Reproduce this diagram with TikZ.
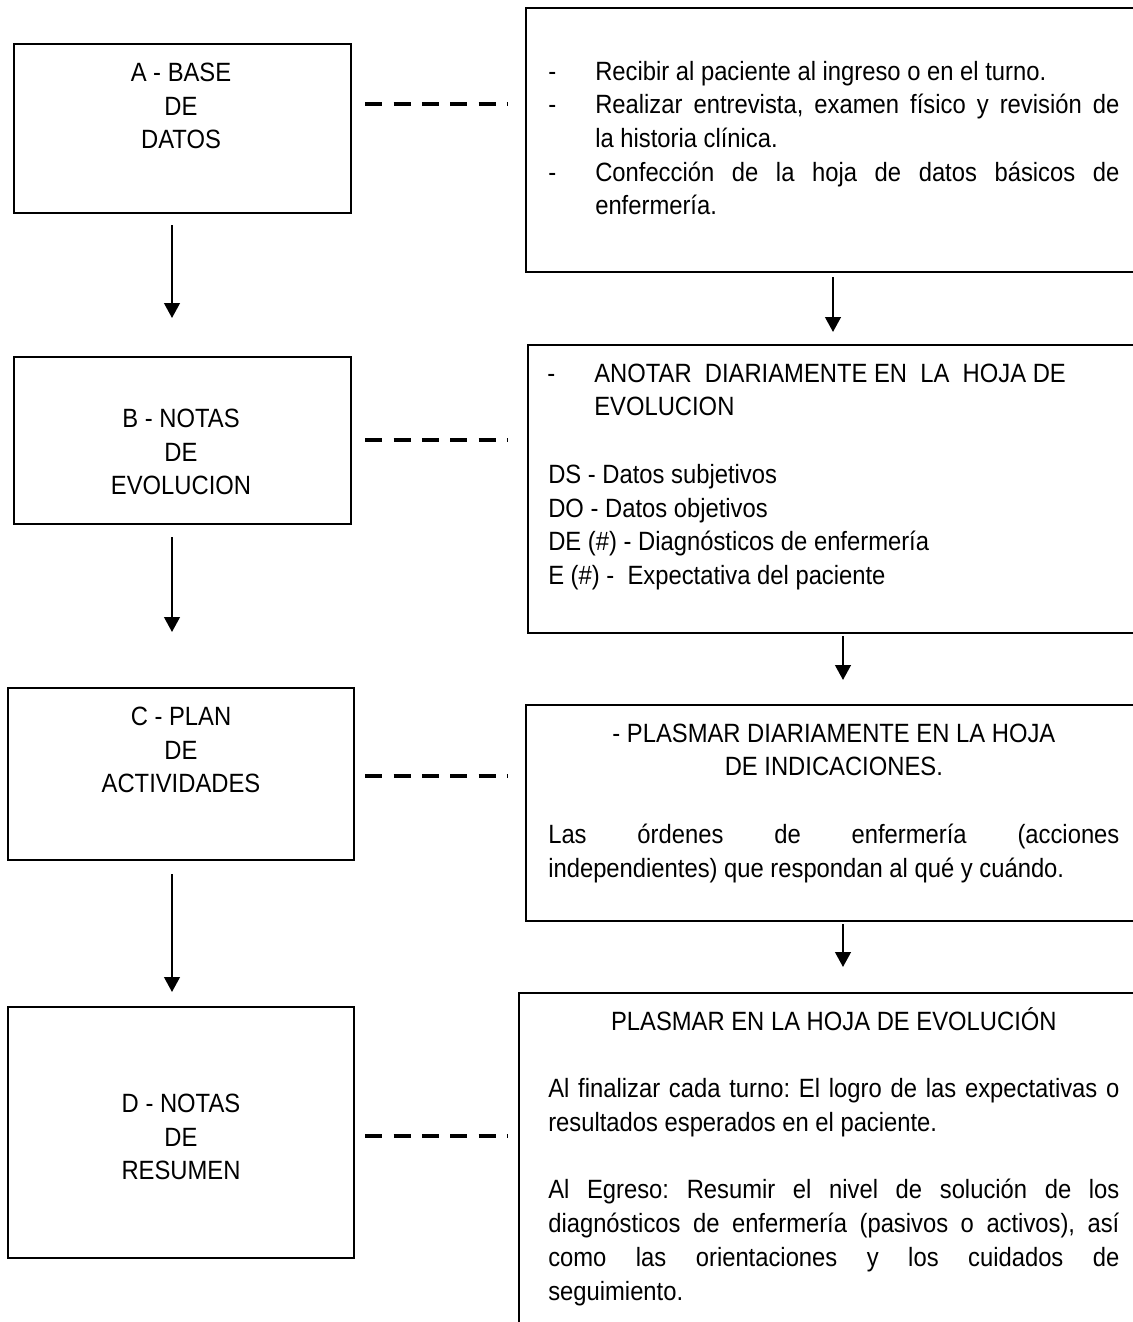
\documentclass[tikz,border=0pt]{standalone}
\usepackage{fontspec}
\setmainfont{Liberation Sans}[FakeStretch=0.9]
\usetikzlibrary{arrows.meta}

\newcommand{\guion}{\leavevmode\llap{\makebox[1.175cm][l]{-}}}
\newcommand{\sincorte}{\frenchspacing\hyphenpenalty=10000 \tolerance=10000 }

\begin{document}
\begin{tikzpicture}[
    x=0.025cm, y=-0.025cm,
    fase/.style={rectangle, draw=black, line width=1.5pt, inner sep=0pt, anchor=north west},
    hoja/.style={rectangle, draw=black, line width=1.5pt, inner sep=0pt, anchor=north west, minimum width=15.75cm},
    rotulo/.style={align=center, inner sep=0pt, font=\fontsize{18.8}{24}\selectfont},
    texto/.style={anchor=base west, inner sep=0pt, align=justify, font={\fontsize{18.8}{24}\selectfont\sincorte}},
    arrow/.style={-{Triangle[width=11pt, length=10.5pt]}, line width=1.5pt},
    link/.style={line width=3.2pt, dash pattern=on 0.425cm off 0.283cm}
]
\useasboundingbox (0,0) rectangle (1132,1322);

% Left column: stages
\node[fase, minimum width=8.425cm, minimum height=4.225cm] (base) at (13,43) {};
\node[fase, minimum width=8.425cm, minimum height=4.175cm] (notas) at (13,356) {};
\node[fase, minimum width=8.65cm, minimum height=4.3cm] (plan) at (7,687) {};
\node[fase, minimum width=8.65cm, minimum height=6.275cm] (resumen) at (7,1006) {};

\node[rotulo] (baseTxt) at (181,106) {A - BASE\\DE\\DATOS};
\node[rotulo] (notasTxt) at (181,452) {B - NOTAS\\DE\\EVOLUCION};
\node[rotulo] (planTxt) at (181,750) {C - PLAN\\DE\\ACTIVIDADES};
\node[rotulo] (resumenTxt) at (181,1137) {D - NOTAS\\DE\\RESUMEN};

% Right column: sheets
\node[hoja, minimum height=6.6cm] (recibir) at (525,7) {};
\node[hoja, minimum height=7.2cm] (anotar) at (527,344) {};
\node[hoja, minimum height=5.4cm] (plasmar) at (525,704) {};
\node[hoja, minimum height=8.7cm] (evolucion) at (518,992) {};

\node[texto, text width=13.1cm] (recibirTxt) at (595,80) {\guion Recibir al paciente al ingreso o en el turno.\par
\guion Realizar entrevista, examen físico y revisión de\linebreak la historia clínica.\par
\guion Confección de la hoja de datos básicos de\linebreak enfermería.};

\node[texto, text width=14.275cm] (anotarTxt) at (548,382) {{\leftskip=1.15cm \guion ANOTAR\ \ DIARIAMENTE EN\ \ LA\ \ HOJA DE\newline EVOLUCION\par}
\vskip 24pt
DS - Datos subjetivos\newline DO - Datos objetivos\newline DE (\#) - Diagnósticos de enfermería\newline E (\#) -\ \ Expectativa del paciente};

\node[texto, text width=14.275cm] (plasmarTxt) at (548,742) {{\centering - PLASMAR DIARIAMENTE EN LA HOJA\par DE INDICACIONES.\par}
\vskip 24pt
Las órdenes de enfermería (acciones\linebreak independientes) que respondan al qué y cuándo.};

\node[texto, text width=14.275cm] (evolucionTxt) at (548,1030) {{\centering PLASMAR EN LA HOJA DE EVOLUCIÓN\par}
\vskip 24pt
Al finalizar cada turno: El logro de las expectativas o\linebreak resultados esperados en el paciente.\par
\vskip 24pt
Al Egreso: Resumir el nivel de solución de los\linebreak diagnósticos de enfermería (pasivos o activos), así\linebreak como las orientaciones y los cuidados de\linebreak seguimiento.};

% Arrows
\draw[arrow, shorten <=0.275cm, shorten >=0.95cm] (172,0 |- base.south) -- (172,0 |- notas.north);
\draw[arrow, shorten <=0.3cm, shorten >=1.375cm] (172,0 |- notas.south) -- (172,0 |- plan.north);
\draw[arrow, shorten <=0.325cm, shorten >=0.35cm] (172,0 |- plan.south) -- (172,0 |- resumen.north);
\draw[arrow, shorten <=0.1cm, shorten >=0.3cm] (833,0 |- recibir.south) -- (833,0 |- anotar.north);
\draw[arrow, shorten <=0.05cm, shorten >=0.6cm] (843,0 |- anotar.south) -- (843,0 |- plasmar.north);
\draw[arrow, shorten <=0.05cm, shorten >=0.625cm] (843,0 |- plasmar.south) -- (843,0 |- evolucion.north);

% Dashed links
\draw[link, shorten <=0.325cm, shorten >=0.45cm] (base.east |- 0,104) -- (recibir.west |- 0,104);
\draw[link, shorten <=0.325cm, shorten >=0.5cm] (notas.east |- 0,440) -- (anotar.west |- 0,440);
\draw[link, shorten <=0.25cm, shorten >=0.45cm] (plan.east |- 0,776) -- (plasmar.west |- 0,776);
\draw[link, shorten <=0.25cm, shorten >=0.275cm] (resumen.east |- 0,1136) -- (evolucion.west |- 0,1136);

\end{tikzpicture}
\end{document}
